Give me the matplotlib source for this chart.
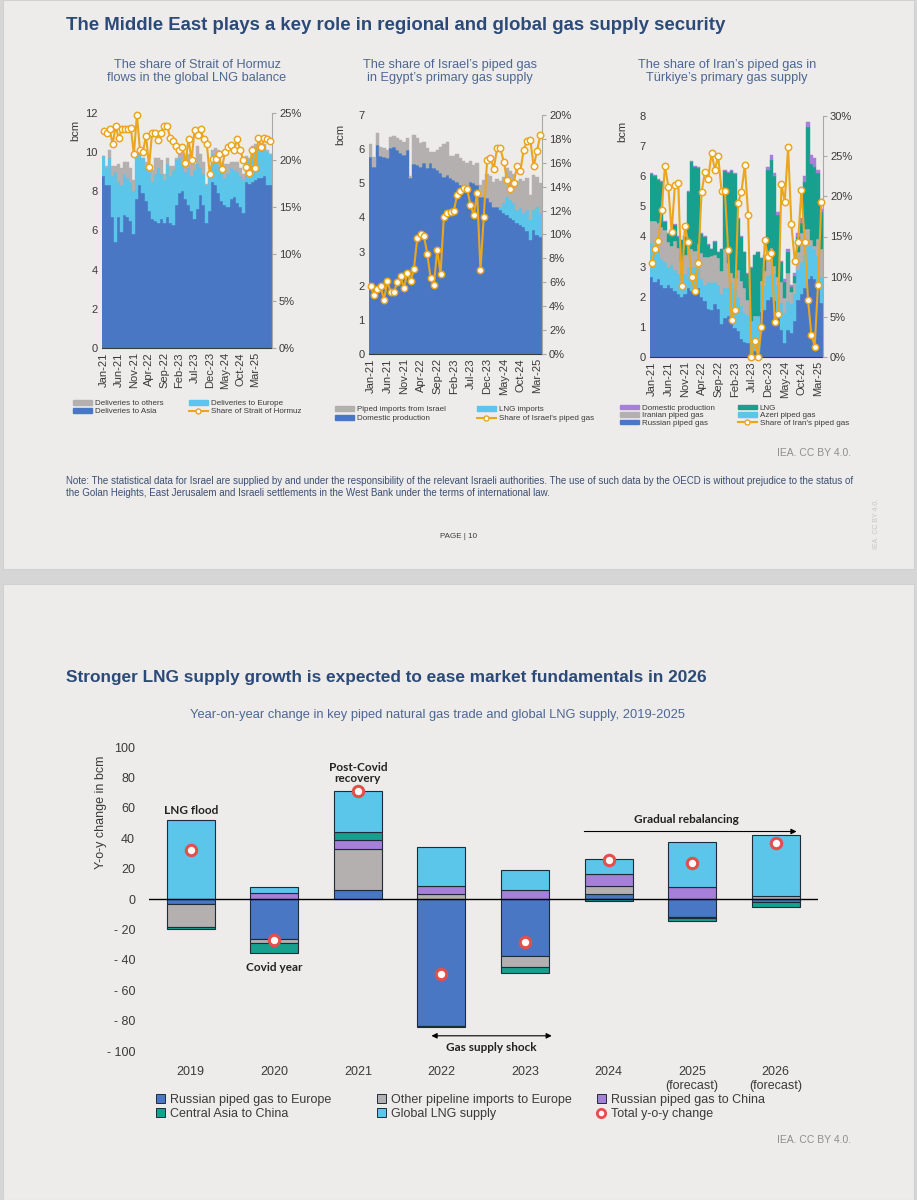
import numpy as np
import matplotlib
matplotlib.use('Agg')
import matplotlib.pyplot as plt
from matplotlib.patches import Rectangle, Patch
from matplotlib.lines import Line2D
from matplotlib.ticker import FuncFormatter

plt.rcParams['font.family'] = ['Liberation Sans', 'DejaVu Sans']

# ---------------- data ----------------
tick_months = ['Jan-21', 'Jun-21', 'Nov-21', 'Apr-22', 'Sep-22', 'Feb-23',
               'Jul-23', 'Dec-23', 'May-24', 'Oct-24', 'Mar-25']

# Strait of Hormuz LNG flows, bcm/month from Jan-21
hormuz_asia = [8.8, 8.3, 8.3, 6.7, 5.4, 6.7, 5.9, 6.8, 6.7, 6.5,
               5.8, 7.6, 8.3, 7.9, 7.5, 7.0, 6.6, 6.5, 6.4, 6.6,
               6.4, 6.7, 6.4, 6.3, 7.3, 7.9, 8.0, 7.6, 7.3, 7.0,
               6.6, 7.1, 7.8, 7.3, 6.4, 7.0, 8.5, 8.3, 7.9, 7.5,
               7.3, 7.2, 7.6, 7.7, 7.4, 7.2, 6.9, 8.5, 8.4, 8.5,
               8.6, 8.7, 8.7, 8.8, 8.3, 8.3]
hormuz_europe = [1.0, 0.9, 1.4, 2.1, 3.6, 1.8, 2.4, 2.1, 2.0, 2.0,
                 2.2, 2.2, 1.6, 1.8, 1.7, 2.0, 1.9, 2.4, 2.8, 2.3,
                 2.2, 2.7, 2.4, 2.8, 2.3, 1.8, 1.4, 1.4, 1.9, 1.8,
                 2.5, 2.3, 1.4, 1.6, 1.9, 1.7, 1.4, 1.4, 1.4, 1.5,
                 1.4, 1.7, 1.6, 1.4, 1.6, 1.6, 1.7, 1.2, 1.2, 1.5,
                 1.6, 1.4, 1.6, 1.4, 1.7, 1.6]
hormuz_others = [0.0, 0.1, 0.4, 0.5, 0.3, 0.9, 0.9, 0.6, 0.8, 0.7,
                 0.6, 0.0, 0.1, 0.0, 0.3, 0.1, 0.6, 0.8, 0.5, 0.7,
                 0.3, 0.3, 0.5, 0.2, 0.1, 0.4, 0.6, 0.5, 0.7, 0.6,
                 0.3, 0.9, 0.7, 0.6, 0.1, 0.3, 0.2, 0.5, 0.8, 0.4,
                 0.7, 0.5, 0.3, 0.4, 0.5, 0.4, 0.3, 0.1, 0.1, 0.3,
                 0.2, 0.1, 0.1, 0.2, 0.1, 0.0]
hormuz_share = [23.1, 22.9, 23.3, 21.7, 23.6, 22.3, 23.3, 23.3, 23.3, 23.4,
                20.6, 24.8, 21.1, 20.9, 22.6, 19.3, 22.9, 22.9, 22.1, 22.9,
                23.6, 23.6, 22.3, 22.0, 21.5, 21.1, 21.4, 19.7, 22.2, 20.0,
                23.2, 22.7, 23.3, 22.2, 21.7, 18.5, 20.1, 20.1, 20.6, 19.0,
                20.9, 21.4, 21.6, 21.1, 22.2, 21.1, 20.0, 19.3, 18.6, 21.1,
                19.1, 22.3, 21.4, 22.3, 22.2, 22.0]

# Egypt primary gas supply, bcm/month from Jan-21
egypt_domestic = [5.78, 5.49, 6.12, 5.80, 5.78, 5.73, 6.02, 6.07, 5.97, 5.88,
                  5.83, 5.97, 5.15, 5.56, 5.54, 5.49, 5.58, 5.44, 5.58, 5.44,
                  5.39, 5.31, 5.19, 5.24, 5.15, 5.10, 5.05, 4.95, 4.90, 4.85,
                  5.05, 5.00, 4.95, 4.61, 4.61, 4.56, 4.46, 4.32, 4.32, 4.22,
                  4.12, 4.07, 3.98, 3.93, 3.85, 3.78, 3.73, 3.59, 3.34, 3.64,
                  3.49, 3.44]
egypt_lng = [0, 0, 0, 0, 0, 0, 0, 0, 0, 0,
             0, 0, 0, 0, 0, 0, 0, 0, 0, 0,
             0, 0, 0, 0, 0, 0, 0, 0, 0, 0,
             0, 0, 0, 0, 0, 0, 0, 0, 0, 0.10,
             0.30, 0.54, 0.53, 0.49, 0.37, 0.50, 0.40, 0.63, 0.59, 0.58,
             0.83, 0.68]
egypt_israel = [0.36, 0.29, 0.34, 0.27, 0.24, 0.24, 0.34, 0.31, 0.37, 0.39,
                0.39, 0.37, 0.05, 0.85, 0.78, 0.68, 0.64, 0.58, 0.35, 0.49,
                0.58, 0.76, 0.95, 0.98, 0.65, 0.70, 0.80, 0.80, 0.75, 0.75,
                0.60, 0.55, 0.65, 0.33, 0.50, 0.70, 0.75, 0.73, 0.80, 0.75,
                0.75, 0.83, 0.85, 0.85, 0.85, 0.85, 0.95, 0.93, 0.73, 1.02,
                0.87, 0.88]
egypt_share = [5.7, 4.9, 5.4, 5.7, 4.5, 6.1, 5.2, 5.2, 6.0, 6.5,
               5.5, 6.8, 6.1, 7.1, 9.7, 10.0, 9.9, 8.4, 6.4, 5.8,
               8.7, 6.7, 11.5, 11.8, 11.9, 12.0, 13.3, 13.6, 13.9, 13.8,
               12.5, 11.6, 13.5, 7.0, 11.5, 16.2, 16.4, 15.5, 17.2, 17.2,
               16.1, 14.6, 13.8, 14.3, 15.7, 15.3, 17.1, 17.8, 17.9, 15.7,
               17.0, 18.3]

# Türkiye primary gas supply, bcm/month from Jan-21
turk_russian = [2.65, 2.50, 2.60, 2.40, 2.30, 2.40, 2.30, 2.20, 2.10, 2.00,
                2.10, 2.30, 2.20, 2.20, 2.30, 2.00, 1.85, 1.60, 1.55, 1.75,
                1.60, 1.10, 1.30, 1.35, 1.30, 0.95, 0.85, 0.60, 0.50, 0.45,
                0.10, 0.20, 0.15, 1.50, 1.55, 1.90, 2.00, 1.85, 1.30, 0.90,
                0.45, 0.90, 0.80, 1.20, 1.90, 2.10, 2.30, 2.60, 2.70, 2.60,
                2.40, 1.80]
turk_azeri = [1.15, 1.20, 1.00, 0.85, 0.85, 0.55, 0.75, 0.70, 0.65, 0.85,
              0.65, 0.70, 0.75, 0.80, 0.70, 0.60, 0.55, 0.90, 0.90, 0.75,
              0.80, 1.00, 1.00, 0.95, 1.20, 1.30, 1.15, 1.10, 0.95, 0.95,
              1.10, 1.10, 1.20, 0.90, 0.80, 0.80, 0.75, 0.90, 1.10, 0.90,
              1.00, 0.95, 0.95, 0.90, 1.00, 1.05, 1.10, 1.10, 1.00, 1.00,
              0.95, 0.85]
turk_iranian = [0.71, 0.81, 0.86, 1.07, 1.07, 0.87, 0.64, 0.94, 0.87, 0.34,
                0.65, 0.79, 0.65, 0.52, 0.74, 0.84, 0.92, 0.83, 0.91, 0.90,
                0.88, 0.74, 1.28, 0.82, 0.29, 0.36, 0.88, 0.82, 0.83, 0.50,
                0.00, 0.07, 0.00, 0.12, 0.50, 0.78, 0.87, 0.27, 0.26, 0.69,
                0.50, 0.94, 0.40, 0.34, 0.59, 0.96, 0.86, 0.55, 0.19, 0.09,
                0.56, 0.95]
turk_lng = [1.56, 1.51, 1.41, 1.50, 0.25, 0.25, 0.38, 0.53, 0.35, 0.68,
            0.57, 1.68, 2.87, 2.80, 2.53, 0.63, 0.65, 0.39, 0.21, 0.42,
            0.19, 0.73, 2.59, 3.00, 3.38, 3.46, 1.69, 1.45, 1.19, 0.87,
            1.77, 2.00, 2.12, 0.75, 0.50, 2.72, 2.93, 2.98, 2.04, 0.66,
            0.55, 0.71, 0.17, 0.26, 0.51, 0.34, 1.54, 3.40, 2.51, 2.61,
            2.19, 1.20]
turk_domestic = [0.03, 0.03, 0.03, 0.03, 0.03, 0.03, 0.03, 0.03, 0.03, 0.03,
                 0.03, 0.03, 0.03, 0.03, 0.03, 0.03, 0.03, 0.03, 0.03, 0.03,
                 0.03, 0.03, 0.03, 0.03, 0.03, 0.03, 0.03, 0.03, 0.03, 0.03,
                 0.03, 0.03, 0.03, 0.03, 0.05, 0.10, 0.15, 0.10, 0.10, 0.05,
                 0.10, 0.10, 0.08, 0.10, 0.10, 0.15, 0.20, 0.15, 0.30, 0.30,
                 0.10, 0.10]
turk_share = [11.7, 13.4, 14.5, 18.3, 23.8, 21.2, 15.6, 21.4, 21.7, 8.8,
              16.3, 14.3, 10.0, 8.2, 11.7, 20.5, 23.0, 22.2, 25.4, 23.3,
              25.0, 20.7, 20.7, 13.3, 4.6, 5.9, 19.2, 20.6, 23.9, 17.7,
              0.0, 2.0, 0.0, 3.7, 14.6, 12.4, 13.0, 4.4, 5.4, 21.5,
              19.3, 26.1, 16.5, 12.0, 14.3, 20.8, 14.3, 7.1, 2.8, 1.3,
              9.0, 19.3]

# Y-o-y change in key piped gas trade and global LNG supply, bcm
years = ['2019', '2020', '2021', '2022', '2023', '2024',
         '2025\n(forecast)', '2026\n(forecast)']
rus_europe = [-3.0, -26.5, 6.0, -83.7, -37.4, 3.0, -12.0, -2.2]
other_europe = [-15.5, -2.5, 27.0, 3.0, -7.4, 5.7, -0.8, 2.0]
rus_china = [0.0, 3.7, 6.0, 5.8, 6.2, 7.7, 7.9, 0.0]
asia_china = [-1.5, -6.2, 5.0, -0.5, -3.6, -1.1, -1.4, -3.1]
lng_supply = [52.3, 4.2, 27.0, 25.2, 13.1, 9.9, 29.9, 40.2]
total_change = [32.0, -27.0, 71.0, -49.5, -28.5, 25.5, 24.0, 37.0]

# ---------------- style ----------------
SLIDE = '#edeceb'
TITLE = '#2c4a78'
SUBT = '#4d6792'
TXT = '#3a3a3a'
BLUE = '#4a77c4'
LBLUE = '#5bc5ea'
GREY = '#b4b0af'
TEAL = '#17a08e'
PURPLE = '#a67fd8'
ORANGE = '#eba51f'
RED = '#e2504b'

W, H = 917, 1200
fig = plt.figure(figsize=(W / 100, H / 100), dpi=100)
fig.patch.set_facecolor('#d7d6d6')


def fpos(x, y):
    return x / W, 1 - y / H


def rect(x0, y0, x1, y1):
    return [x0 / W, 1 - y1 / H, (x1 - x0) / W, (y1 - y0) / H]


# two slide panels
for y0, y1 in [(0, 569), (584, 1200)]:
    fig.add_artist(Rectangle(fpos(3, y1), 911 / W, (y1 - y0) / H,
                             transform=fig.transFigure, facecolor=SLIDE,
                             edgecolor='#d2d1d1', lw=0.8, zorder=-10))

pct = FuncFormatter(lambda v, p: f'{v:.0f}%')


def monthly_chart(box, layers, share, ymax, smax, sstep):
    n = len(share)
    x = np.arange(n)
    ax = fig.add_axes(rect(*box))
    ax.set_facecolor('none')
    base = np.zeros(n)
    for vals, col in layers:
        v = np.array(vals, dtype=float)
        ax.bar(x, v, width=1.0, bottom=base, color=col, edgecolor=col,
               linewidth=0.3, zorder=2)
        base += v
    ax.set_xlim(-0.5, n - 0.5)
    ax.set_ylim(0, ymax)
    ax.set_yticks(np.arange(0, ymax + 0.01, 2 if ymax > 10 else 1))
    ax.set_xticks(np.arange(0, 5 * len(tick_months), 5))
    ax.set_xticklabels(tick_months, rotation=90)
    ax.tick_params(axis='both', length=0, labelsize=8, colors=TXT, pad=3)
    for s in ['top', 'left', 'right']:
        ax.spines[s].set_visible(False)
    ax.spines['bottom'].set_color('#3a3a3a')
    ax.spines['bottom'].set_linewidth(0.8)

    ax2 = ax.twinx()
    ax2.plot(x, share, color=ORANGE, lw=1.5, marker='o', ms=4.6,
             mfc='white', mec=ORANGE, mew=1.1, clip_on=False, zorder=3)
    ax2.set_ylim(0, smax)
    ax2.set_yticks(np.arange(0, smax + 0.01, sstep))
    ax2.yaxis.set_major_formatter(pct)
    ax2.tick_params(axis='y', length=3, color='#a8a8a8', labelsize=8,
                    labelcolor=TXT, pad=2)
    for s in ['top', 'left', 'bottom']:
        ax2.spines[s].set_visible(False)
    ax2.spines['right'].set_color('#a8a8a8')
    ax2.spines['right'].set_linewidth(0.8)
    return ax, ax2


def share_handle():
    return Line2D([], [], color=ORANGE, lw=1.5, marker='o', ms=3.6,
                  mfc='white', mec=ORANGE, mew=1.0)


def legend_col(handles, labels, x, y, size, hl, hh, spacing):
    fig.legend(handles, labels, loc='upper left', bbox_to_anchor=fpos(x, y),
               frameon=False, fontsize=size, handlelength=hl,
               handleheight=hh, handletextpad=0.4, labelspacing=spacing,
               borderpad=0, borderaxespad=0, labelcolor=TXT)


# ---------------- top slide ----------------
fig.text(66 / W, 1 - 25 / H,
         'The Middle East plays a key role in regional and global gas supply security',
         fontsize=13.4, fontweight='bold', color=TITLE, va='center')

titles = [(197, 'The share of Strait of Hormuz\nflows in the global LNG balance'),
          (450, "The share of Israel\u2019s piped gas\nin Egypt\u2019s primary gas supply"),
          (727, "The share of Iran\u2019s piped gas in\nT\u00fcrkiye\u2019s primary gas supply")]
for cx, t in titles:
    fig.text(cx / W, 1 - 71.5 / H, t, ha='center', va='center', fontsize=9.2,
             color=SUBT, linespacing=1.1)

monthly_chart((102, 113, 272, 348),
              [(hormuz_asia, BLUE), (hormuz_europe, LBLUE), (hormuz_others, GREY)],
              hormuz_share, 12, 25, 5)
monthly_chart((369, 115, 542, 354),
              [(egypt_domestic, BLUE), (egypt_lng, LBLUE), (egypt_israel, GREY)],
              egypt_share, 7, 20, 2)
monthly_chart((650, 116, 823, 357),
              [(turk_russian, BLUE), (turk_azeri, LBLUE), (turk_iranian, GREY),
               (turk_lng, TEAL), (turk_domestic, PURPLE)],
              turk_share, 8, 30, 5)

for bx, by in [(75, 130), (340, 134), (622, 131)]:
    fig.text(bx / W, 1 - by / H, 'bcm', rotation=90, ha='center', va='center',
             fontsize=8, color=TXT)

LS = 5.8
legend_col([Patch(color=GREY), Patch(color=BLUE)],
           ['Deliveries to others', 'Deliveries to Asia'], 73, 400, LS, 2.3, 0.5, 0.12)
legend_col([Patch(color=LBLUE), share_handle()],
           ['Deliveries to Europe', 'Share of Strait of Hormuz'], 189, 400, LS, 2.3, 0.5, 0.12)
legend_col([Patch(color=GREY), Patch(color=BLUE)],
           ['Piped imports from Israel', 'Domestic production'], 335, 406, LS, 2.3, 0.5, 0.25)
legend_col([Patch(color=LBLUE), share_handle()],
           ['LNG imports', "Share of Israel's piped gas"], 477, 406, LS, 2.3, 0.5, 0.25)
legend_col([Patch(color=PURPLE), Patch(color=GREY), Patch(color=BLUE)],
           ['Domestic production', 'Iranian piped gas', 'Russian piped gas'],
           620, 404.5, LS, 2.3, 0.5, 0.05)
legend_col([Patch(color=TEAL), Patch(color=LBLUE), share_handle()],
           ['LNG', 'Azeri piped gas', "Share of Iran's piped gas"],
           738, 404.5, LS, 2.3, 0.5, 0.05)

fig.text(851 / W, 1 - 453 / H, 'IEA. CC BY 4.0.', ha='right', va='center',
         fontsize=7.5, color='#8e8e8e')
note = ('Note: The statistical data for Israel are supplied by and under the responsibility of the relevant '
        'Israeli authorities. The use of such data by the OECD is without prejudice to the status of\n'
        'the Golan Heights, East Jerusalem and Israeli settlements in the West Bank under the terms of '
        'international law.')
fig.text(66 / W, 1 - 476 / H, note, ha='left', va='top', fontsize=7,
         color='#3b4f74', linespacing=1.3,
         family=['Liberation Sans Narrow', 'Liberation Sans'])
fig.text(458 / W, 1 - 537 / H, 'PAGE | 10', ha='center', va='center',
         fontsize=5.8, color=TXT)
fig.text(876 / W, 1 - 524 / H, 'IEA. CC BY 4.0.', rotation=90, ha='center',
         va='center', fontsize=5, color='#c4c4c4')

# ---------------- bottom slide ----------------
fig.text(66 / W, 1 - 678 / H,
         'Stronger LNG supply growth is expected to ease market fundamentals in 2026',
         fontsize=12.4, fontweight='bold', color=TITLE, va='center')
fig.text(438 / W, 1 - 715 / H,
         'Year-on-year change in key piped natural gas trade and global LNG supply, 2019-2025',
         ha='center', va='center', fontsize=9.3, color=SUBT)

axb = fig.add_axes(rect(149, 747, 817.5, 1051))
axb.set_facecolor('none')
xs = np.arange(len(years))
pos_base = np.zeros(len(years))
neg_base = np.zeros(len(years))
components = [(rus_europe, BLUE), (other_europe, GREY), (rus_china, PURPLE),
              (asia_china, TEAL), (lng_supply, LBLUE)]
for vals, col in components:
    v = np.array(vals)
    keep = v != 0
    b = np.where(v > 0, pos_base, neg_base)
    axb.bar(xs[keep], v[keep], width=0.575, bottom=b[keep], color=col,
            edgecolor='#1e2c3a', linewidth=0.8, zorder=2)
    pos_base += np.where(v > 0, v, 0)
    neg_base += np.where(v < 0, v, 0)

axb.axhline(0, color='black', lw=1.0, zorder=3)
axb.plot(xs, total_change, ls='none', marker='o', ms=7.5, mfc='white',
         mec=RED, mew=2.2, zorder=4)

axb.set_xlim(-0.5, len(years) - 0.5)
axb.set_ylim(-100, 100)
axb.set_yticks(np.arange(-100, 101, 20))
axb.yaxis.set_major_formatter(
    FuncFormatter(lambda v, p: f'- {abs(v):.0f}' if v < 0 else f'{v:.0f}'))
axb.set_xticks(xs)
axb.set_xticklabels(years)
axb.tick_params(axis='y', length=0, labelsize=9, colors=TXT, pad=10)
axb.tick_params(axis='x', length=0, labelsize=9, colors=TXT, pad=11)
for s in axb.spines.values():
    s.set_visible(False)
fig.text(101 / W, 1 - 812 / H, 'Y-o-y change in bcm', rotation=90,
         ha='center', va='center', fontsize=9, color=TXT)

ann = dict(fontsize=8.5, fontweight='bold', color='#222222',
           family=['Lato', 'DejaVu Sans'], ha='center', va='center')
axb.text(0, 58, 'LNG flood', **ann)
axb.text(1, -45, 'Covid year', **ann)
axb.text(2, 83, 'Post-Covid\nrecovery', linespacing=0.95, **ann)
axb.text(3.6, -97.5, 'Gas supply shock', **ann)
axb.text(5.93, 52.5, 'Gradual rebalancing', **ann)
axb.annotate('', xy=(4.32, -90), xytext=(2.88, -90),
             arrowprops=dict(arrowstyle='<|-|>', color='black', lw=0.8,
                             mutation_scale=8, shrinkA=0, shrinkB=0))
axb.annotate('', xy=(7.25, 44.4), xytext=(4.71, 44.4),
             arrowprops=dict(arrowstyle='-|>', color='black', lw=0.8,
                             mutation_scale=8, shrinkA=0, shrinkB=0))

sq = dict(edgecolor='#1e2c3a', linewidth=0.7)
tot_handle = Line2D([], [], ls='none', marker='o', ms=6, mfc='white',
                    mec=RED, mew=2)
legend_col([Patch(facecolor=BLUE, **sq), Patch(facecolor=TEAL, **sq)],
           ['Russian piped gas to Europe', 'Central Asia to China'],
           156, 1094, 9, 0.7, 0.7, 0.15)
legend_col([Patch(facecolor=GREY, **sq), Patch(facecolor=LBLUE, **sq)],
           ['Other pipeline imports to Europe', 'Global LNG supply'],
           377, 1094, 9, 0.7, 0.7, 0.15)
legend_col([Patch(facecolor=PURPLE, **sq), tot_handle],
           ['Russian piped gas to China', 'Total y-o-y change'],
           597, 1094, 9, 0.7, 0.7, 0.15)

fig.text(851 / W, 1 - 1140 / H, 'IEA. CC BY 4.0.', ha='right', va='center',
         fontsize=7.5, color='#8e8e8e')

fig.savefig('out.png', dpi=100, facecolor=fig.get_facecolor())
